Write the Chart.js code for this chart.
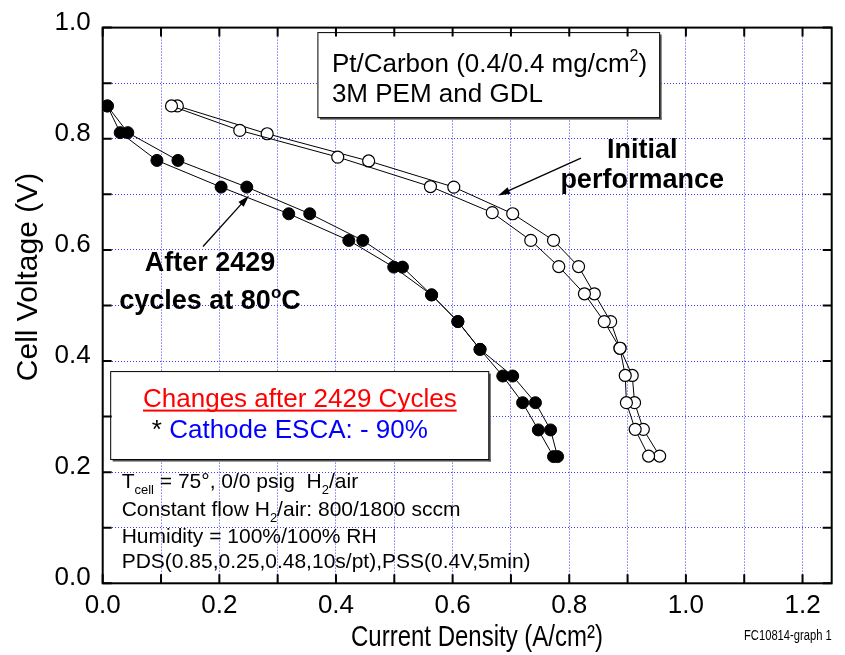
<!DOCTYPE html>
<html>
<head>
<meta charset="utf-8">
<script src="https://cdn.jsdelivr.net/npm/chart.js@4.4.1/dist/chart.umd.min.js"></script>
<style>
  html, body { margin: 0; padding: 0; background: #fff; }
  #wrap { width: 845px; height: 655px; position: relative; }
</style>
</head>
<body>
<div id="wrap"><canvas id="polCurve"></canvas></div>
<script>
// current density (A/cm2) and cell voltage (V), two sweeps per curve
var jInitialA = [0.118, 0.235, 0.403, 0.562, 0.668, 0.734, 0.782, 0.826, 0.860, 0.887, 0.896, 0.898, 0.913, 0.936];
var vInitialA = [0.859, 0.815, 0.767, 0.714, 0.667, 0.617, 0.570, 0.521, 0.471, 0.423, 0.374, 0.325, 0.277, 0.229];
var jInitialB = [0.128, 0.282, 0.456, 0.602, 0.703, 0.773, 0.816, 0.843, 0.871, 0.887, 0.908, 0.912, 0.927, 0.955];
var vInitialB = [0.859, 0.809, 0.760, 0.713, 0.665, 0.617, 0.570, 0.521, 0.471, 0.423, 0.374, 0.325, 0.277, 0.229];

var jCycledA = [0.008, 0.030, 0.093, 0.203, 0.319, 0.422, 0.499, 0.564, 0.609, 0.647, 0.686, 0.720, 0.747, 0.773];
var jCycledB = [0.008, 0.043, 0.129, 0.247, 0.355, 0.446, 0.514, 0.564, 0.609, 0.647, 0.703, 0.742, 0.768, 0.780];
var vCycled  = [0.859, 0.811, 0.761, 0.713, 0.665, 0.617, 0.569, 0.519, 0.471, 0.421, 0.373, 0.325, 0.276, 0.228];

var SANS = '"Liberation Sans", Arial, sans-serif';

function pts(xs, ys) {
    return xs.map(function (v, i) { return { x: v, y: ys[i] }; });
}

// text with sub/superscripts; parts = [[text, ''|'sub'|'sup'], ...]
function rich(ctx, parts, x, y, size, weight, align) {
    var total = 0;
    var segs = parts.map(function (p) {
        var s = p[1] ? Math.round(size * 0.62) : size;
        ctx.font = weight + ' ' + s + 'px ' + SANS;
        var w = ctx.measureText(p[0]).width;
        total += w;
        return { t: p[0], m: p[1], s: s, w: w };
    });
    var cx = align === 'center' ? x - total / 2 : x;
    var start = cx;
    segs.forEach(function (g) {
        ctx.font = weight + ' ' + g.s + 'px ' + SANS;
        var dy = g.m === 'sub' ? size * 0.28 : (g.m === 'sup' ? -size * 0.42 : 0);
        ctx.fillText(g.t, cx, y + dy);
        cx += g.w;
    });
    return { x: start, w: total };
}

// narrow look for the axis title text
function squeezed(ctx, text, x, y, size, k) {
    ctx.save();
    ctx.translate(x, y);
    ctx.scale(k, 1);
    ctx.font = size + 'px ' + SANS;
    ctx.fillText(text, 0, 0);
    ctx.restore();
}

function arrow(ctx, x1, y1, x2, y2) {
    var ang = Math.atan2(y2 - y1, x2 - x1);
    ctx.strokeStyle = '#000';
    ctx.lineWidth = 1.3;
    ctx.beginPath();
    ctx.moveTo(x1, y1);
    ctx.lineTo(x2 - 8 * Math.cos(ang), y2 - 8 * Math.sin(ang));
    ctx.stroke();
    ctx.beginPath();
    ctx.moveTo(x2, y2);
    ctx.lineTo(x2 - 12 * Math.cos(ang) + 3.5 * Math.sin(ang), y2 - 12 * Math.sin(ang) - 3.5 * Math.cos(ang));
    ctx.lineTo(x2 - 12 * Math.cos(ang) - 3.5 * Math.sin(ang), y2 - 12 * Math.sin(ang) + 3.5 * Math.cos(ang));
    ctx.closePath();
    ctx.fillStyle = '#000';
    ctx.fill();
}

function box(ctx, x0, y0, x1, y1) {
    ctx.fillStyle = '#fff';
    ctx.fillRect(x0, y0, x1 - x0, y1 - y0);
    ctx.fillStyle = '#555';
    ctx.fillRect(x0 + 2, y1, x1 - x0, 2);
    ctx.fillRect(x1, y0 + 2, 2, y1 - y0);
    ctx.strokeStyle = '#000';
    ctx.lineWidth = 1;
    ctx.strokeRect(x0, y0, x1 - x0, y1 - y0);
}

var notes = {
    id: 'notes',
    afterDatasetsDraw: function (chart) {
        var ctx = chart.ctx;
        var sx = chart.scales.x, sy = chart.scales.y;
        var X = function (v) { return sx.getPixelForValue(v); };
        var Y = function (v) { return sy.getPixelForValue(v); };
        ctx.save();
        ctx.textBaseline = 'alphabetic';
        ctx.textAlign = 'left';

        // catalyst box
        box(ctx, X(0.369), Y(0.991), X(0.955), Y(0.838));
        ctx.fillStyle = '#000';
        rich(ctx, [['Pt/Carbon (0.4/0.4 mg/cm', ''], ['2', 'sup'], [')', '']], X(0.393), Y(0.921), 26, 'normal', 'left');
        rich(ctx, [['3M PEM and GDL', '']], X(0.393), Y(0.867), 26, 'normal', 'left');

        // changes box
        box(ctx, X(0.0137), Y(0.381), X(0.662), Y(0.2227));
        ctx.fillStyle = '#ff0000';
        var r = rich(ctx, [['Changes after 2429 Cycles', '']], X(0.338), Y(0.318), 26, 'normal', 'center');
        ctx.fillRect(r.x, Y(0.318) + 3, r.w, 2);
        ctx.fillStyle = '#000';
        rich(ctx, [['*', '']], X(0.084), Y(0.261), 26, 'normal', 'left');
        ctx.fillStyle = '#0000ff';
        rich(ctx, [['Cathode ESCA: - 90%', '']], X(0.114), Y(0.261), 26, 'normal', 'left');

        // test conditions
        ctx.fillStyle = '#000';
        rich(ctx, [['T', ''], ['cell', 'sub'], [' = 75\u00b0, 0/0 psig  H', ''], ['2', 'sub'], ['/air', '']], X(0.0325), Y(0.172), 21, 'normal', 'left');
        rich(ctx, [['Constant flow H', ''], ['2', 'sub'], ['/air: 800/1800 sccm', '']], X(0.0325), Y(0.1217), 21, 'normal', 'left');
        rich(ctx, [['Humidity = 100%/100% RH', '']], X(0.0325), Y(0.0723), 21, 'normal', 'left');
        rich(ctx, [['PDS(0.85,0.25,0.48,10s/pt),PSS(0.4V,5min)', '']], X(0.0325), Y(0.0267), 21, 'normal', 'left');

        // curve labels and arrows
        rich(ctx, [['Initial', '']], X(0.925), Y(0.765), 27, 'bold', 'center');
        rich(ctx, [['performance', '']], X(0.925), Y(0.711), 27, 'bold', 'center');
        arrow(ctx, X(0.820), Y(0.765), X(0.678), Y(0.698));
        rich(ctx, [['After 2429', '']], X(0.184), Y(0.562), 27, 'bold', 'center');
        rich(ctx, [['cycles at 80', ''], ['o', 'sup'], ['C', '']], X(0.184), Y(0.493), 27, 'bold', 'center');
        arrow(ctx, X(0.172), Y(0.606), X(0.251), Y(0.698));
        ctx.restore();
    },
    afterDraw: function (chart) {
        var ctx = chart.ctx, a = chart.chartArea;
        var sx = chart.scales.x, sy = chart.scales.y;
        ctx.save();
        // inward tick marks on all four sides
        ctx.strokeStyle = '#000';
        ctx.lineWidth = 2;
        ctx.beginPath();
        sx.ticks.forEach(function (t) {
            var px = sx.getPixelForValue(t.value);
            ctx.moveTo(px, a.bottom); ctx.lineTo(px, a.bottom - 9);
            ctx.moveTo(px, a.top); ctx.lineTo(px, a.top + 9);
        });
        sy.ticks.forEach(function (t) {
            var py = sy.getPixelForValue(t.value);
            ctx.moveTo(a.left, py); ctx.lineTo(a.left + 9, py);
            ctx.moveTo(a.right, py); ctx.lineTo(a.right - 9, py);
        });
        ctx.stroke();
        ctx.strokeRect(a.left, a.top, a.right - a.left, a.bottom - a.top);

        // axis titles
        ctx.fillStyle = '#000';
        ctx.textAlign = 'center';
        ctx.textBaseline = 'alphabetic';
        squeezed(ctx, 'Current Density (A/cm\u00b2)', 477, 646, 30, 0.8);
        ctx.textAlign = 'left';
        squeezed(ctx, 'FC10814-graph 1', 744, 640, 14, 0.8);
        ctx.translate(37, 277);
        ctx.rotate(-Math.PI / 2);
        ctx.textAlign = 'center';
        ctx.font = '30px ' + SANS;
        ctx.fillText('Cell Voltage (V)', 0, 0);
        ctx.restore();
    }
};

function label02(v) {
    var q = v * 5;
    return Math.abs(q - Math.round(q)) < 1e-6 ? v.toFixed(1) : '';
}

var gridStyle = { color: '#3b3bff', lineWidth: 1, drawTicks: false };

var ctx = document.getElementById('polCurve').getContext('2d');
var polChart = new Chart(ctx, {
    type: 'scatter',
    data: {
        datasets: [{
            label: 'Initial (a)',
            data: pts(jInitialA, vInitialA),
            showLine: true,
            borderColor: '#000',
            borderWidth: 1,
            pointRadius: 6,
            pointBackgroundColor: '#fff',
            pointBorderColor: '#000',
            pointBorderWidth: 1.2
        }, {
            label: 'Initial (b)',
            data: pts(jInitialB, vInitialB),
            showLine: true,
            borderColor: '#000',
            borderWidth: 1,
            pointRadius: 6,
            pointBackgroundColor: '#fff',
            pointBorderColor: '#000',
            pointBorderWidth: 1.2
        }, {
            label: 'After 2429 cycles (a)',
            data: pts(jCycledA, vCycled),
            showLine: true,
            borderColor: '#000',
            borderWidth: 1,
            pointRadius: 6,
            pointBackgroundColor: '#000',
            pointBorderColor: '#000'
        }, {
            label: 'After 2429 cycles (b)',
            data: pts(jCycledB, vCycled),
            showLine: true,
            borderColor: '#000',
            borderWidth: 1,
            pointRadius: 6,
            pointBackgroundColor: '#000',
            pointBorderColor: '#000'
        }]
    },
    options: {
        responsive: true,
        maintainAspectRatio: false,
        animation: false,
        events: [],
        layout: { padding: { left: 0, right: 13.3, top: 21.7, bottom: 0 } },
        plugins: { legend: { display: false }, tooltip: { enabled: false } },
        scales: {
            x: {
                type: 'linear',
                min: 0,
                max: 1.25,
                afterFit: function (s) { s.height = 71.7; },
                grid: gridStyle,
                border: { display: false, dash: [1, 2] },
                ticks: { stepSize: 0.1, includeBounds: false, padding: 7, color: '#000', font: { family: SANS, size: 26 }, callback: label02, maxRotation: 0, autoSkip: false }
            },
            y: {
                type: 'linear',
                min: 0,
                max: 1,
                afterFit: function (s) { s.width = 102.7; },
                grid: gridStyle,
                border: { display: false, dash: [1, 2] },
                ticks: { stepSize: 0.1, padding: 12, labelOffset: -5, color: '#000', font: { family: SANS, size: 26 }, callback: label02, autoSkip: false }
            }
        }
    },
    plugins: [notes]
});
</script>
</body>
</html>
